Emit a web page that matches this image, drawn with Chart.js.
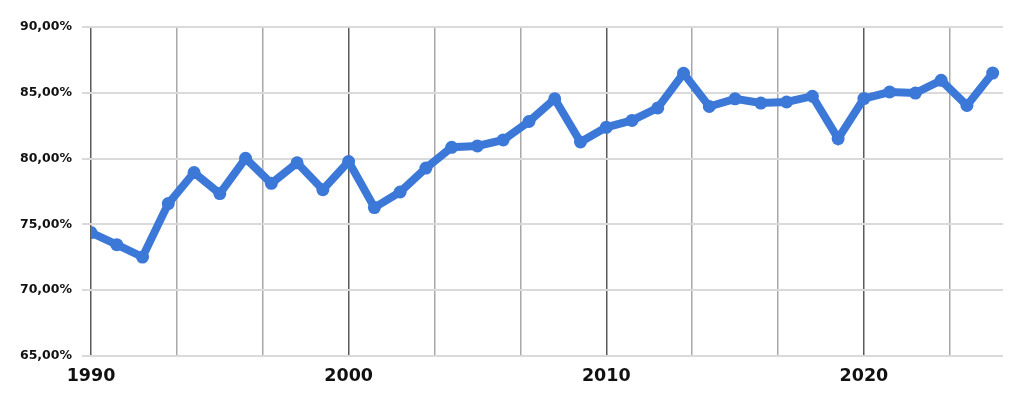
<!DOCTYPE html>
<html lang="de">
<head>
    <meta charset="UTF-8">
    <title>Quote 1990-2025</title>
    <script src="https://cdn.jsdelivr.net/npm/chart.js"></script>
    <style>
        html, body { margin: 0; padding: 0; background: #fff; }
        #wrap { width: 1024px; height: 406px; }
    </style>
</head>
<body>
    <div id="wrap"><canvas id="lineChart"></canvas></div>

    <script>
        // Jahre (x) und Werte in Prozent (y)
        let years = [1990, 1991, 1992, 1993, 1994, 1995, 1996, 1997, 1998, 1999,
                     2000, 2001, 2002, 2003, 2004, 2005, 2006, 2007, 2008, 2009,
                     2010, 2011, 2012, 2013, 2014, 2015, 2016, 2017, 2018, 2019,
                     2020, 2021, 2022, 2023, 2024, 2025];
        let values = [74.38, 73.46, 72.52, 76.58, 78.94, 77.34, 80.02, 78.12, 79.68, 77.64,
                      79.78, 76.28, 77.46, 79.28, 80.86, 80.96, 81.42, 82.82, 84.54, 81.26,
                      82.38, 82.9, 83.85, 86.48, 83.96, 84.54, 84.22, 84.3, 84.74, 81.52,
                      84.56, 85.06, 84.98, 85.95, 84.04, 86.5];
        // Gitterlinien alle 10/3 Jahre, beschriftet nur die Jahrzehnte
        let xGridYears = [1990, 1993.333, 1996.667, 2000, 2003.333, 2006.667,
                          2010, 2013.333, 2016.667, 2020, 2023.333];
        let yTicks = [65, 70, 75, 80, 85, 90];

        let points = years.map((yr, i) => ({ x: yr, y: values[i] }));
        let isDecade = v => Math.abs(v - Math.round(v / 10) * 10) < 0.01;

        Chart.defaults.font.family = "'DejaVu Sans', Verdana, sans-serif";
        Chart.defaults.color = "#111";

        let ctx = document.getElementById("lineChart").getContext("2d");
        let chart = new Chart(ctx, {
            type: "line",
            data: {
                datasets: [{
                    data: points,
                    borderColor: "#3c78d8",
                    backgroundColor: "#3c78d8",
                    borderWidth: 8,
                    pointRadius: 6.5,
                    pointBorderWidth: 0,
                    pointBackgroundColor: "#3c78d8",
                    tension: 0
                }]
            },
            options: {
                responsive: true,
                maintainAspectRatio: false,
                animation: false,
                layout: { padding: { top: 27, right: 21, left: 0, bottom: 0 } },
                plugins: { legend: { display: false }, tooltip: { enabled: false } },
                scales: {
                    x: {
                        type: "linear",
                        min: 1990,
                        max: 2025.4,
                        afterBuildTicks: s => { s.ticks = xGridYears.map(v => ({ value: v })); },
                        afterFit: s => { s.height = 50; },
                        border: { display: false },
                        grid: {
                            drawTicks: false,
                            color: c => isDecade(c.tick.value) ? "#5a5a5a" : "#a8a8a8",
                            lineWidth: 1.5
                        },
                        ticks: {
                            autoSkip: false,
                            maxRotation: 0,
                            padding: 10,
                            font: { size: 17.5, weight: "bold" },
                            callback: v => isDecade(v) ? String(Math.round(v)) : ""
                        }
                    },
                    y: {
                        min: 65,
                        max: 90,
                        afterBuildTicks: s => { s.ticks = yTicks.map(v => ({ value: v })); },
                        afterFit: s => { s.width = 91; },
                        border: { display: false },
                        grid: {
                            color: "#dadada",
                            lineWidth: 2,
                            tickLength: 9
                        },
                        ticks: {
                            padding: 10,
                            font: { size: 12.5, weight: "bold" },
                            callback: v => v.toFixed(2).replace(".", ",") + "%"
                        }
                    }
                }
            }
        });
    </script>
</body>
</html>
